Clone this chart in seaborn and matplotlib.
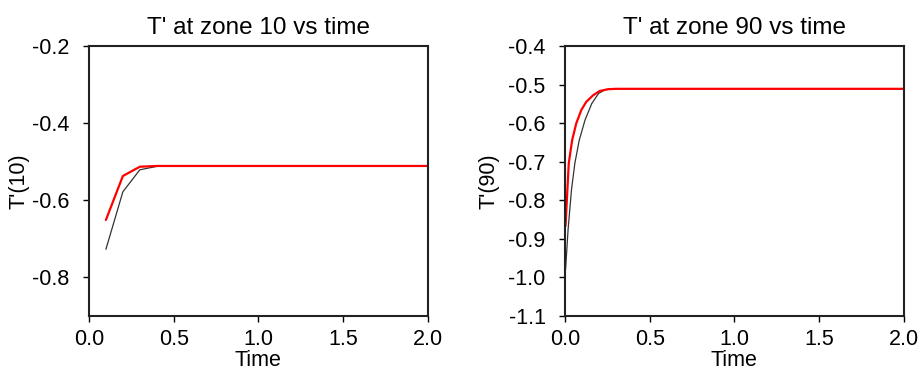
import numpy as np
import pandas as pd
import matplotlib
matplotlib.use('Agg')
import matplotlib.pyplot as plt
import seaborn as sns

# zone 10 (left panel)
t10 = [0.1, 0.2, 0.3, 0.4, 0.5, 1.0, 1.5, 2.0]
ref10 = [-0.727, -0.578, -0.521, -0.512, -0.511, -0.511, -0.511, -0.511]
sol10 = [-0.651, -0.537, -0.513, -0.511, -0.511, -0.511, -0.511, -0.511]

# zone 90 (right panel)
t90_ref = [0.003, 0.018, 0.038, 0.058, 0.084, 0.118, 0.158, 0.198, 0.238, 0.3, 1.0, 2.0]
ref90 = [-0.98, -0.876, -0.773, -0.704, -0.644, -0.592, -0.549, -0.523, -0.513, -0.511, -0.511, -0.511]
t90_sol = [0.003, 0.022, 0.042, 0.066, 0.096, 0.125, 0.165, 0.205, 0.255, 0.3, 1.0, 2.0]
sol90 = [-0.866, -0.704, -0.644, -0.601, -0.566, -0.545, -0.528, -0.5165, -0.512, -0.511, -0.511, -0.511]

sns.set_style("ticks")
plt.rcParams['font.family'] = ['Liberation Sans', 'DejaVu Sans']
plt.rcParams['text.color'] = 'black'
plt.rcParams['axes.labelcolor'] = 'black'

fig = plt.figure(figsize=(9.21, 3.74), dpi=100)
ax1 = fig.add_axes([0.0966, 0.155, 0.368, 0.722])
ax2 = fig.add_axes([0.6135, 0.155, 0.3677, 0.722])

panels = [
    (ax1, t10, ref10, t10, sol10, "T' at zone 10 vs time", "T'(10)",
     (-0.9, -0.2), [-0.8, -0.6, -0.4, -0.2], 2),
    (ax2, t90_ref, ref90, t90_sol, sol90, "T' at zone 90 vs time", "T'(90)",
     (-1.1, -0.4), list(np.round(np.arange(-1.1, -0.35, 0.1), 1)), 6),
]

for ax, tr, yr, ts, ys, title, ylab, ylim, yticks, ypad in panels:
    sns.lineplot(x=tr, y=yr, ax=ax, color="#333333", linewidth=0.9)
    sns.lineplot(x=ts, y=ys, ax=ax, color="#ff0000", linewidth=1.6)
    ax.set_xlim(0, 2.0)
    ax.set_ylim(*ylim)
    ax.set_xticks([0.0, 0.5, 1.0, 1.5, 2.0])
    ax.set_xticklabels([f"{v:.1f}" for v in [0.0, 0.5, 1.0, 1.5, 2.0]])
    ax.set_yticks(yticks)
    ax.set_yticklabels([f"{v:.1f}" for v in yticks])
    ax.set_title(title, fontsize=17.5, pad=9, color="black")
    ax.set_xlabel("Time", fontsize=15.5, labelpad=0)
    ax.set_ylabel(ylab, fontsize=15.5, labelpad=ypad)
    ax.tick_params(labelsize=15.5, length=4, width=1, colors="black")
    ax.tick_params(axis="x", pad=5)
    ax.tick_params(axis="y", pad=10)
    for sp in ax.spines.values():
        sp.set_visible(True)
        sp.set_linewidth(1.5)
        sp.set_color("#222222")

fig.savefig("out.png", dpi=100)
